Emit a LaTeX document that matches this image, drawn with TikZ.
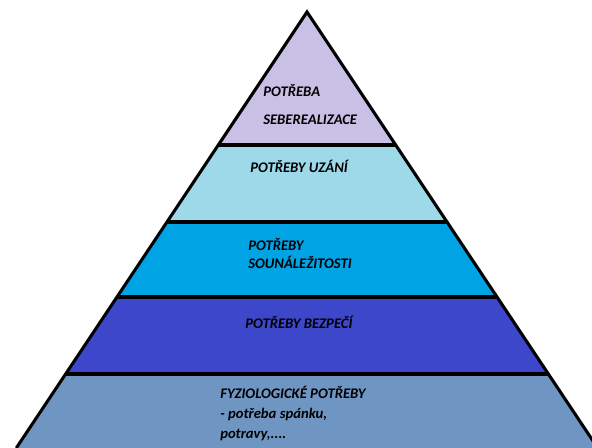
\documentclass[tikz,border=0pt]{standalone}
\usepackage{fontspec}
\setmainfont{Carlito}
\usepackage{tikz}
\usetikzlibrary{positioning}
\definecolor{selfcol}{HTML}{C9C0E5}
\definecolor{esteemcol}{HTML}{9DD9E9}
\definecolor{belongcol}{HTML}{00A3E3}
\definecolor{safetycol}{HTML}{3D47C9}
\definecolor{physiocol}{HTML}{6F95C2}

\begin{document}
\begin{tikzpicture}[
    x=0.75pt, y=-0.75pt,
    edge/.style={draw=black, line width=2.3pt, line join=miter},
    lbl/.style={anchor=base west, inner sep=0pt, text=black,
                font=\bfseries\itshape\fontsize{11}{13}\selectfont},
]
\useasboundingbox (0,0) rectangle (592,448);
\clip (0,0) rectangle (592,448);

% === OUTLINE POINTS ===
\coordinate (apex) at (307,12);
\coordinate (l1) at (218.3,145); \coordinate (r1) at (395.7,145);
\coordinate (l2) at (167,222);   \coordinate (r2) at (447,222);
\coordinate (l3) at (117,297);   \coordinate (r3) at (497,297);
\coordinate (l4) at (65.7,374);  \coordinate (r4) at (548.3,374);
\coordinate (lb) at (16.3,448);  \coordinate (rb) at (597.7,448);

% === BANDS ===
\fill[selfcol]   (apex) -- (r1) -- (l1) -- cycle;
\fill[esteemcol] (l1) -- (r1) -- (r2) -- (l2) -- cycle;
\fill[belongcol] (l2) -- (r2) -- (r3) -- (l3) -- cycle;
\fill[safetycol] (l3) -- (r3) -- (r4) -- (l4) -- cycle;
\fill[physiocol] (l4) -- (r4) -- (rb) -- (lb) -- cycle;

% === LINES ===
\draw[edge] (lb) -- (apex) -- (rb);
\draw[edge] (l1) -- (r1);
\draw[edge] (l2) -- (r2);
\draw[edge] (l3) -- (r3);
\draw[edge] (l4) -- (r4);

% === LABELS ===
\node[lbl] (self-a) at (263,97) {POTŘEBA};
\node[lbl] (self-b) at (263,125) {SEBEREALIZACE};
\node[lbl] (esteem) at (250,173) {POTŘEBY UZÁNÍ};
\node[lbl] (belong-a) at (248,251) {POTŘEBY};
\node[lbl] (belong-b) at (248,269) {SOUNÁLEŽITOSTI};
\node[lbl] (safety) at (245,329) {POTŘEBY BEZPEČÍ};
\node[lbl] (physio-a) at (220,398) {FYZIOLOGICKÉ POTŘEBY};
\node[lbl] (physio-b) at (220,418) {- potřeba spánku,};
\node[lbl] (physio-c) at (220,438) {potravy,....};

\end{tikzpicture}
\end{document}
